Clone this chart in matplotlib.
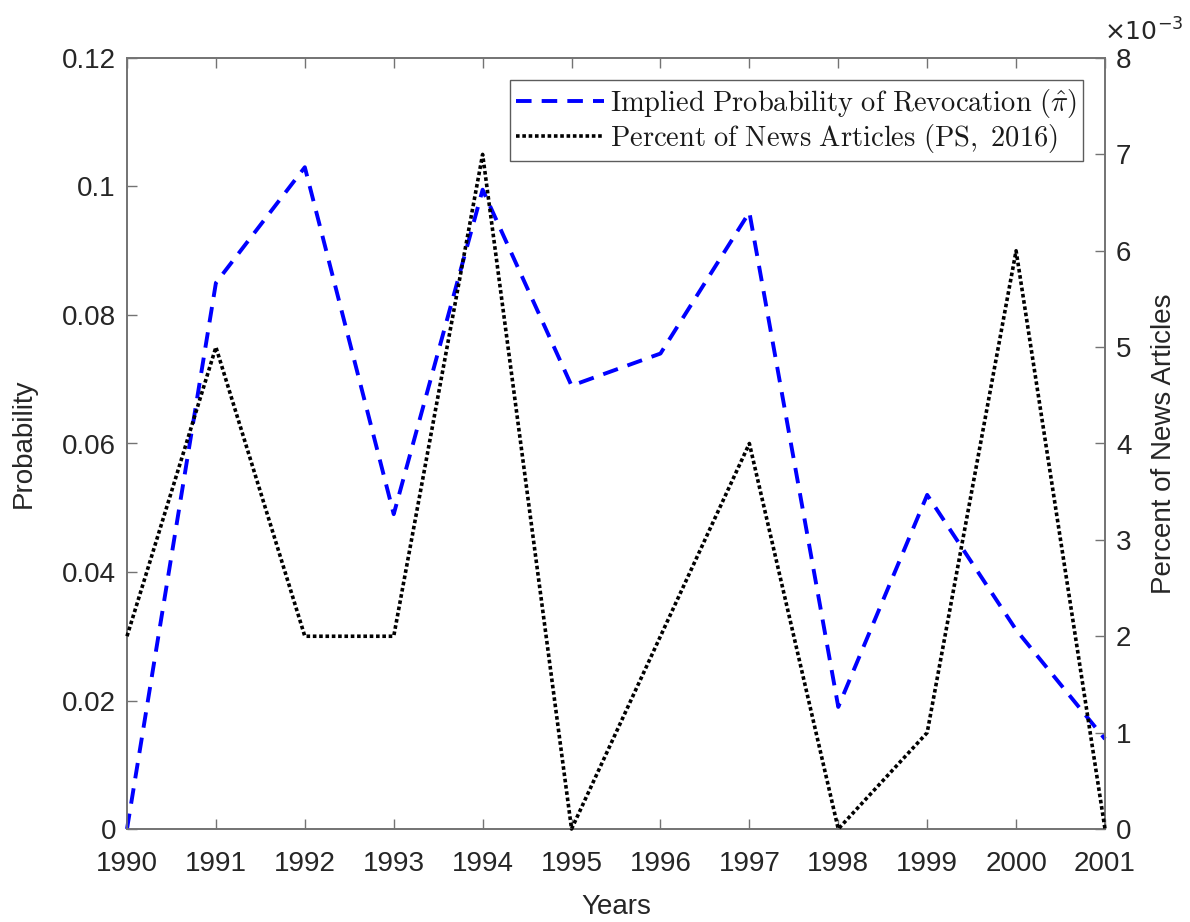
import matplotlib
matplotlib.use("Agg")
import matplotlib.pyplot as plt
from matplotlib.ticker import FuncFormatter

years = [1990, 1991, 1992, 1993, 1994, 1995, 1996, 1997, 1998, 1999, 2000, 2001]
implied_prob = [0.0, 0.085, 0.103, 0.049, 0.0995, 0.069, 0.074, 0.096, 0.019, 0.052, 0.031, 0.014]
news_pct = [0.002, 0.005, 0.002, 0.002, 0.007, 0.0, 0.002, 0.004, 0.0, 0.001, 0.006, 0.0]

label_prob = r"$\mathrm{Implied\ Probability\ of\ Revocation\ }(\hat{\pi})$"
label_news = r"$\mathrm{Percent\ of\ News\ Articles\ (PS,\ 2016)}$"

plt.rcParams["font.family"] = ["Liberation Sans", "DejaVu Sans"]
axis_col = (0.15, 0.15, 0.15)
spine_col = "0.45"
fs = 20

fig = plt.figure(figsize=(11.9, 9.22), dpi=100)
ax = fig.add_axes([127 / 1190, 1 - 829 / 922, (1105 - 127) / 1190, (829 - 58) / 922])
ax2 = ax.twinx()

l1, = ax.plot(years, implied_prob, color=(0, 0, 1), lw=2.8, dashes=(4.0, 2.6),
              clip_on=False, zorder=3)
l2, = ax2.plot(years, news_pct, color="black", lw=2.6, dashes=(1.0, 0.75),
               clip_on=False, zorder=3)

ax.set_xlim(1990, 2001)
ax.set_ylim(0, 0.12)
ax2.set_ylim(0, 0.008)
ax.set_xticks(years)
ax.set_yticks([0, 0.02, 0.04, 0.06, 0.08, 0.1, 0.12])
ax.yaxis.set_major_formatter(FuncFormatter(lambda v, p: f"{v:g}"))
ax2.set_yticks([i / 1000 for i in range(9)])
ax2.yaxis.set_major_formatter(FuncFormatter(lambda v, p: f"{v * 1000:.0f}"))

for a in (ax, ax2):
    for s in a.spines.values():
        s.set_color(spine_col)
        s.set_linewidth(1.2)
ax.tick_params(axis="y", direction="in", length=7, width=1, color=spine_col,
               labelsize=fs, labelcolor=axis_col, right=False, pad=8)
ax.tick_params(axis="x", direction="in", length=7, width=1, color=spine_col,
               labelsize=fs, labelcolor=axis_col, top=True, pad=16)
ax2.tick_params(axis="y", direction="in", length=7, width=1, color=spine_col,
                labelsize=fs, labelcolor=axis_col, pad=8)

ax.set_xlabel("Years", fontsize=fs, color=axis_col, labelpad=12)
ax.set_ylabel("Probability", fontsize=fs, color=axis_col, labelpad=18)
ax2.set_ylabel("Percent of News Articles", fontsize=fs, color=axis_col, labelpad=14)

# axis multiplier for the right-hand scale
fig.text(1104 / 1190, 1 - 32 / 922, r"$\times10^{-3}$", fontsize=18, color=axis_col,
         ha="left", va="center", math_fontfamily="dejavusans")

leg = ax2.legend([l1, l2], [label_prob, label_news], loc="upper right",
                 bbox_to_anchor=(0.9775, 0.971), fontsize=20.5, frameon=True,
                 fancybox=False, edgecolor="0.2", handlelength=3.1,
                 handletextpad=0.2, borderpad=0.22, labelspacing=0.08,
                 borderaxespad=0)
leg.get_frame().set_linewidth(1.0)
for t in leg.get_texts():
    t.set_math_fontfamily("cm")
    t.set_color("0.1")

fig.savefig("out.png", dpi=100, facecolor="white")
